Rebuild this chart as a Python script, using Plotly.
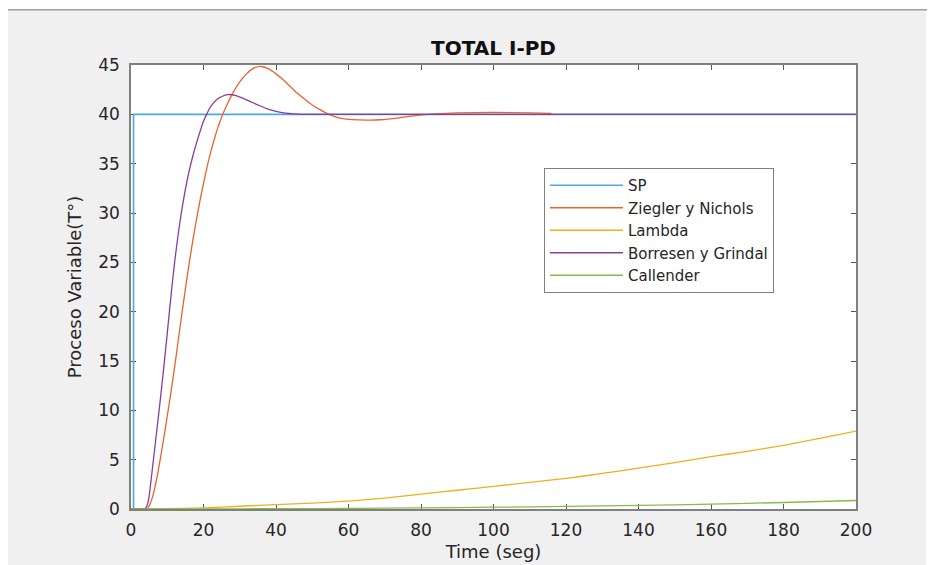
import plotly.graph_objects as go

# ---------------- data ----------------
sp_t = [0, 0.7, 0.7, 200]
sp_v = [0, 0, 40, 40]

zn_t = [0, 3, 4.3, 5, 6, 7, 8, 9, 10, 11, 12, 13, 14, 15, 16, 17, 18, 19, 20, 21,
        22, 23, 24, 25, 26, 28, 30, 32, 34, 36, 38, 40, 42, 44, 46, 48, 50, 52,
        54, 56, 58, 61, 65, 69, 74, 79, 84, 90, 100, 110, 116]
zn_v = [0, 0, 0, 0.3, 1.3, 2.9, 4.9, 7.1, 9.4, 11.8, 14.3, 17.0, 19.7, 22.3,
        24.8, 27.1, 29.2, 31.2, 33.0, 34.7, 36.2, 37.5, 38.7, 39.7, 40.6, 42.1,
        43.3, 44.15, 44.7, 44.85, 44.6, 44.1, 43.5, 42.8, 42.1, 41.5, 40.95,
        40.5, 40.1, 39.8, 39.6, 39.47, 39.42, 39.45, 39.65, 39.9, 40.05, 40.15,
        40.2, 40.15, 40.1]

lam_t = [0, 10, 20, 30, 40, 50, 60, 70, 80, 90, 100, 110, 120, 130, 140, 150,
         160, 170, 180, 190, 200]
lam_v = [0, 0.03, 0.12, 0.28, 0.45, 0.6, 0.8, 1.1, 1.5, 1.9, 2.3, 2.7, 3.1, 3.6,
         4.15, 4.7, 5.3, 5.85, 6.45, 7.15, 7.9]

bg_t = [0, 3, 3.8, 4.5, 5, 6, 7, 8, 9, 10, 11, 12, 13, 14, 15, 16, 17, 18, 19,
        20, 21, 22, 24, 26.5, 29, 32, 35, 38, 42, 46, 50, 60, 80, 100, 120, 150,
        200]
bg_v = [0, 0, 0, 0.4, 1.3, 4.4, 7.6, 10.8, 14.2, 17.8, 21.5, 24.9, 27.8, 30.3,
        32.4, 34.2, 35.7, 37.0, 38.2, 39.3, 40.1, 40.8, 41.6, 42.0, 41.9, 41.45,
        40.95, 40.5, 40.15, 40.03, 40, 40, 40, 40, 40, 40, 40]

cal_t = [0, 20, 40, 60, 80, 100, 120, 140, 160, 180, 200]
cal_v = [0, 0.01, 0.03, 0.06, 0.11, 0.18, 0.26, 0.36, 0.49, 0.66, 0.86]

x_ticks = [0, 20, 40, 60, 80, 100, 120, 140, 160, 180, 200]
y_ticks = [0, 5, 10, 15, 20, 25, 30, 35, 40, 45]

names = ["SP", "Ziegler y Nichols", "Lambda", "Borresen y Grindal", "Callender"]
colors = ["#4AAAE6", "#E8642C", "#EDB120", "#8B3D9E", "#88BB4A"]
widths = [1.6, 1.3, 1.3, 1.3, 1.3]

FONT = "DejaVu Sans"
TXT = "#262626"

fig = go.Figure()
series = [(sp_t, sp_v, "linear"), (zn_t, zn_v, "spline"), (lam_t, lam_v, "spline"),
          (bg_t, bg_v, "spline"), (cal_t, cal_v, "spline")]
for i, (t, v, shp) in enumerate(series):
    fig.add_trace(go.Scatter(
        x=t, y=v, mode="lines", name=names[i], legendgroup=f"g{i}",
        line=dict(color=colors[i], width=widths[i], shape=shp, smoothing=0.6),
    ))

# the page body has an 8px margin; the figure is sized to fill the window
OFF = 8
W, H = 935 - OFF, 565 - OFF
ML, MT = 131 - OFF, 65 - OFF
PW, PH = 725, 444
MR, MB = W - ML - PW, H - MT - PH

axis_common = dict(
    showgrid=False, zeroline=False, showline=True, linecolor="#808080",
    linewidth=1.5, mirror="ticks", ticks="inside", ticklen=5, tickwidth=1,
    tickcolor="#555555", layer="below traces", automargin=False,
    tickfont=dict(family=FONT, size=17, color=TXT),
)

fig.update_layout(
    width=W, height=H,
    margin=dict(l=ML, r=MR, t=MT, b=MB, autoexpand=False),
    paper_bgcolor="#f0f0f0", plot_bgcolor="white",
    title=dict(text="<b>TOTAL I-PD</b>", x=0.5, xref="paper", xanchor="center",
               y=1 - (47.5 - OFF) / H, yref="container", yanchor="middle",
               font=dict(family=FONT, size=20, color="#111111")),
    xaxis=dict(range=[0, 200], tickvals=x_ticks, ticklabelstandoff=5,
               title=dict(text="Time (seg)", standoff=6,
                          font=dict(family=FONT, size=18, color=TXT)),
               **axis_common),
    yaxis=dict(range=[0, 45], tickvals=y_ticks, ticklabelstandoff=6,
               title=dict(text="Proceso Variable(T°)", standoff=12,
                          font=dict(family=FONT, size=18, color=TXT)),
               **axis_common),
    legend=dict(x=(544 - 131) / PW, y=(509 - 168) / PH, xanchor="left",
                yanchor="top", bgcolor="white", bordercolor="#808080",
                borderwidth=1, font=dict(family=FONT, size=15, color=TXT),
                traceorder="grouped", tracegroupgap=0, itemwidth=73),
    showlegend=True,
)

# window frame (window pixel coords -> paper coords)
def wx(px):
    return (px - 131) / PW

def wy(py):
    return (509 - py) / PH

fig.add_shape(type="rect", xref="paper", yref="paper",
              x0=wx(OFF), x1=wx(935), y0=wy(9), y1=wy(OFF),
              fillcolor="white", line=dict(width=0), layer="above")
fig.add_shape(type="rect", xref="paper", yref="paper",
              x0=wx(926), x1=wx(935), y0=wy(565), y1=wy(OFF),
              fillcolor="white", line=dict(width=0), layer="above")
fig.add_shape(type="line", xref="paper", yref="paper",
              x0=wx(OFF), x1=wx(935), y0=wy(9.7), y1=wy(9.7),
              line=dict(color="#a0a0a0", width=1.5), layer="above")

fig.write_html("out.html")
